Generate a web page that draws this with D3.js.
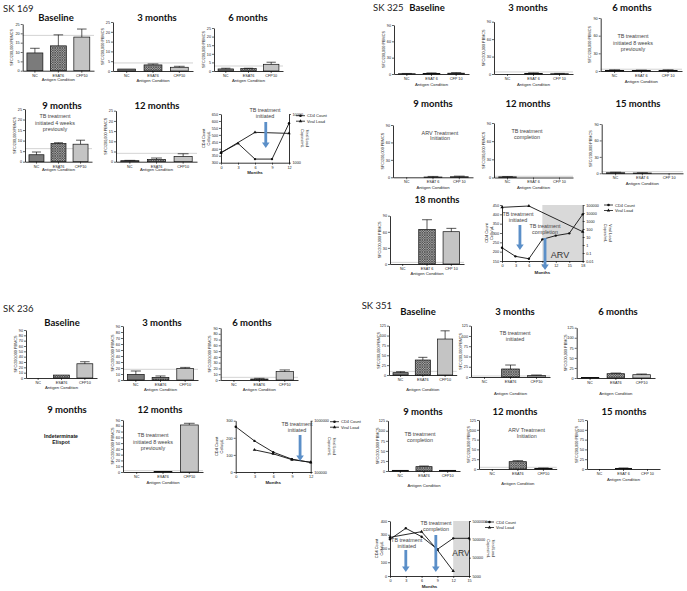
<!DOCTYPE html>
<html><head><meta charset="utf-8">
<script src="https://cdn.jsdelivr.net/npm/d3@7"></script>
<style>body{margin:0;background:#fff}svg{display:block}</style>
</head><body>
<svg id="c" width="687" height="591"></svg>
<script>
// ---------------- DATA ----------------
const catsA = ["NC","ESAT6","CFP10"];
const catsB = ["NC","ESAT 6","CFP 10"];
const yLabelBar = "SFC/200,000 PBMCS";
const xLabelBar = "Antigen Condition";

// SK 169 (scale 0-25)
const ticks169 = [0,5,10,15,20,25];
const v169_b = [9.5,13.3,18.0],  e169_b = [12.0,19.2,22.3];
const v169_3 = [1.0,3.1,1.9],    e169_3 = [1.0,3.6,2.4];
const v169_6 = [1.2,1.4,3.9],    e169_6 = [1.6,1.6,5.1];
const v169_9 = [3.3,8.6,8.3],    e169_9 = [4.6,9.0,10.2];
const v169_12 = [0.5,1.1,2.6],   e169_12 = [0.65,1.8,3.9];
const thr169 = [18.9,4.1,2.9,6.2,4.1];

// SK 325 (scale 0-90)
const ticks325 = [0,30,60,90];
const v325_b = [0.5,1.0,1.5],  e325_b = [1.0,2.0,2.5];
const v325_3 = [0,1.0,0.5],    e325_3 = [0,2.0,1.0];
const v325_6 = [1.0,1.0,1.0],  e325_6 = [2.0,1.5,2.0];
const v325_9 = [0,0.5,1.0],    e325_9 = [0,1.5,2.0];
const v325_12 = [1.0,0,0],     e325_12 = [1.5,0,0];
const v325_15 = [1.0,0.5,0],   e325_15 = [2.0,1.0,0];
const v325_18 = [0,64.5,60.2], e325_18 = [0,82.5,66.4];

// SK 236 (scale 0-90)
const ticks236 = [0,10,20,30,40,50,60,70,80,90];
const v236_b = [0,5.5,26.7],  e236_b = [0,5.5,30.5];
const v236_3 = [9.4,4.4,19.4], e236_3 = [15.0,6.7,21.0];
const v236_6 = [0,1.7,14.5],   e236_6 = [0,2.9,17.4];
const v236_12 = [0,1.0,81.4],  e236_12 = [0,1.0,84.3];

// SK 351 (scale 0-125)
const ticks351 = [0,25,50,75,100,125];
const v351_b = [5.9,38.0,91.2],  e351_b = [8.4,44.8,112.0];
const v351_3 = [0,19.5,4.0],     e351_3 = [0,29.2,4.9];
const v351_6 = [1.6,10.7,8.2],   e351_6 = [1.6,12.3,9.9];
const v351_9 = [1.7,10.8,1.7],   e351_9 = [1.7,12.4,1.7];
const v351_12 = [0,18.7,1.7],    e351_12 = [0,21.3,2.6];
const v351_15 = [0,1.7,0],       e351_15 = [0,2.6,0];

// CD4 / viral load time courses
const cd4M_169 = [0,3,6,9,12],  cd4_169 = [372,439,326,326,583];
const vlM_169 = [0,6,12],       vl_169 = [1600,4200,4000];
const cd4M_325 = [0,3,6,9,12,15,18], cd4_325 = [221,175,162,266,286,298,400];
const vlM_325 = [0,6,18],       vl_325 = [51000,75000,46];
const cd4M_236 = [0,3,6,9,12],  cd4_236 = [265,182,116,75,56];
const vlM_236 = [3,6,9,12],     vl_236 = [270000,226000,174000,155000];
const cd4M_351 = [0,3,6,9,12,15], cd4_351 = [267,347,286,194,274,274];
const vlM_351 = [0,6,9,12],     vl_351 = [643000,1310000,131000,9400];

// ---------------- DRAWING ----------------
const svg = d3.select("#c");
const SMALL = "'Liberation Sans', Arial, sans-serif";
const TITLE = "Lato, 'Open Sans', sans-serif";
const defs = svg.append("defs");
const pat = defs.append("pattern").attr("id","hatch").attr("patternUnits","userSpaceOnUse").attr("width",2.4).attr("height",2.4);
pat.append("rect").attr("width",2.4).attr("height",2.4).attr("fill","#a9a9a9");
pat.append("path").attr("d","M0,0L2.4,2.4M2.4,0L0,2.4").attr("stroke","#3a3a3a").attr("stroke-width",0.6);
const fills = ["#7b7b7b","url(#hatch)","#c4c4c4"];
const BLUE = "#5b8fc8";

function styleAxis(sel, fs){
  sel.attr("font-size",fs).attr("font-family",SMALL);
  sel.select(".domain").attr("stroke","#000").attr("stroke-width",0.8);
  sel.selectAll(".tick line").attr("stroke","#000").attr("stroke-width",0.6);
  sel.selectAll(".tick text").attr("fill","#222");
}
function title(t,x,y){
  svg.append("text").attr("x",x).attr("y",y).attr("text-anchor","middle").attr("dominant-baseline","central")
    .attr("font-family",TITLE).attr("font-weight","bold").attr("font-size",9.5).attr("fill","#111").text(t);
}
function note(lines,x,y0,dy,fs,bold){
  const t = svg.append("text").attr("text-anchor","middle").attr("font-family",SMALL).attr("font-size",fs||5.4)
    .attr("fill", bold?"#111":"#444").attr("font-weight",bold?"bold":"normal");
  lines.forEach((l,i)=>t.append("tspan").attr("x",x).attr("y",y0+i*(dy||6.3)).attr("dominant-baseline","central").text(l));
}
function patient(t,x,y){
  svg.append("text").attr("x",x).attr("y",y).attr("dominant-baseline","central").attr("font-family",TITLE)
    .attr("font-size",9.5).attr("fill","#222").text(t);
}

function barPanel(p){
  const g = svg.append("g");
  const x = d3.scaleBand().domain(p.cats).range([p.x,p.x+p.w]).paddingInner(0.32).paddingOuter(0.18);
  const ymax = p.ticks[p.ticks.length-1];
  const y = d3.scaleLinear().domain([0,ymax]).range([p.y+p.h,p.y]);
  if(p.thr!=null) g.append("line").attr("x1",p.x).attr("x2",p.x+p.w).attr("y1",y(p.thr)).attr("y2",y(p.thr))
    .attr("stroke","#c8c8c8").attr("stroke-width",0.8);
  const rows = p.vals.map((v,i)=>({c:p.cats[i],v,e:p.errs[i],i}));
  g.selectAll("rect.bar").data(rows.filter(d=>d.v>0)).join("rect").attr("class","bar")
    .attr("x",d=>x(d.c)).attr("y",d=>y(d.v)).attr("width",x.bandwidth()).attr("height",d=>y(0)-y(d.v))
    .attr("fill",d=>fills[d.i]).attr("stroke","#111").attr("stroke-width",0.7);
  const eb = rows.filter(d=>d.e>d.v);
  const bw = x.bandwidth();
  g.selectAll("line.eb").data(eb).join("line").attr("class","eb")
    .attr("x1",d=>x(d.c)+bw/2).attr("x2",d=>x(d.c)+bw/2).attr("y1",d=>y(d.v)).attr("y2",d=>y(d.e))
    .attr("stroke","#111").attr("stroke-width",0.7);
  g.selectAll("line.cap").data(eb).join("line").attr("class","cap")
    .attr("x1",d=>x(d.c)+bw*0.2).attr("x2",d=>x(d.c)+bw*0.8).attr("y1",d=>y(d.e)).attr("y2",d=>y(d.e))
    .attr("stroke","#111").attr("stroke-width",0.7);
  const ya = g.append("g").attr("transform",`translate(${p.x},0)`)
    .call(d3.axisLeft(y).tickValues(p.ticks).tickSize(2).tickSizeOuter(0).tickPadding(1));
  styleAxis(ya,3.8);
  const xa = g.append("g").attr("transform",`translate(0,${p.y+p.h})`)
    .call(d3.axisBottom(x).tickSize(2).tickSizeOuter(0).tickPadding(1.3));
  styleAxis(xa,3.8);
  g.append("text").attr("transform",`translate(${p.x-10.5},${p.y+p.h/2}) rotate(-90)`).attr("text-anchor","middle")
    .attr("dominant-baseline","central").attr("font-family",SMALL).attr("font-size",3.8).attr("fill","#222").text(yLabelBar);
  g.append("text").attr("x",p.x+p.w/2).attr("y",p.y+p.h+p.ag).attr("text-anchor","middle").attr("dominant-baseline","central")
    .attr("font-family",SMALL).attr("font-size",4.2).attr("fill","#222").text(xLabelBar);
  title(p.title,p.tx,p.ty);
  if(p.note) note(p.note,p.nx,p.ny,p.ndy);
}

function arrow(g,x,y1,y2){
  const hw=3.8, hl=5.5, sw=1.4;
  g.append("path").attr("d",`M${x-sw},${y1}L${x+sw},${y1}L${x+sw},${y2-hl}L${x+hw},${y2-hl}L${x},${y2}L${x-hw},${y2-hl}L${x-sw},${y2-hl}Z`)
    .attr("fill",BLUE);
}

function linePanel(p){
  const g = svg.append("g");
  const xmax = p.xTicks[p.xTicks.length-1];
  const x = d3.scaleLinear().domain([0,xmax]).range([p.x,p.x+p.w]);
  const yl = d3.scaleLinear().domain(p.lDom).range([p.y+p.h,p.y]);
  const yr = d3.scaleLog().domain(p.rDom).range([p.y+p.h,p.y]);
  if(p.shade) g.append("rect").attr("x",x(p.shade[0])).attr("y",p.y).attr("width",x(p.shade[1])-x(p.shade[0]))
    .attr("height",p.h).attr("fill","#d9d9d9");
  if(p.arv) g.append("text").attr("x",p.arv[0]).attr("y",p.arv[1]).attr("text-anchor","middle").attr("dominant-baseline","central")
    .attr("font-family",SMALL).attr("font-size",p.arv[2]).attr("fill","#333").text("ARV");
  const cd = p.cd4M.map((m,i)=>[x(m),yl(p.cd4[i])]);
  const vl = p.vlM.map((m,i)=>[x(m),yr(p.vl[i])]);
  g.append("path").attr("d",d3.line()(cd)).attr("fill","none").attr("stroke","#111").attr("stroke-width",0.9);
  g.append("path").attr("d",d3.line()(vl)).attr("fill","none").attr("stroke","#111").attr("stroke-width",0.9);
  g.selectAll("circle.cd").data(cd).join("circle").attr("class","cd").attr("cx",d=>d[0]).attr("cy",d=>d[1]).attr("r",1.2).attr("fill","#111");
  const tri = d3.symbol().type(d3.symbolTriangle).size(5);
  g.selectAll("path.vl").data(vl).join("path").attr("class","vl").attr("d",tri).attr("transform",d=>`translate(${d[0]},${d[1]})`).attr("fill","#111");
  const la = g.append("g").attr("transform",`translate(${p.x},0)`)
    .call(d3.axisLeft(yl).tickValues(p.lTicks).tickSize(2).tickSizeOuter(0).tickPadding(1));
  styleAxis(la,3.8);
  const fmt = d=> d<1 ? String(d) : d3.format("d")(d);
  const ra = g.append("g").attr("transform",`translate(${p.x+p.w},0)`)
    .call(d3.axisRight(yr).tickValues(p.rTicks).tickFormat(fmt).tickSize(2).tickSizeOuter(0).tickPadding(1.5));
  styleAxis(ra,3.8);
  const xa = g.append("g").attr("transform",`translate(0,${p.y+p.h})`)
    .call(d3.axisBottom(x).tickValues(p.xTicks).tickSize(2).tickSizeOuter(0).tickPadding(1.3));
  styleAxis(xa,3.8);
  g.append("text").attr("x",p.x+p.w/2).attr("y",p.y+p.h+p.mg).attr("text-anchor","middle").attr("dominant-baseline","central")
    .attr("font-family",SMALL).attr("font-weight","bold").attr("font-size",4.4).attr("fill","#222").text("Months");
  const lt = g.append("text").attr("transform",`translate(${p.llx},${p.y+p.h/2}) rotate(-90)`).attr("text-anchor","middle")
    .attr("font-family",SMALL).attr("font-size",3.9).attr("fill","#222");
  lt.append("tspan").attr("x",0).attr("y",-2.3).attr("dominant-baseline","central").text("CD4 Count");
  lt.append("tspan").attr("x",0).attr("y",2.3).attr("dominant-baseline","central").text("Cells/\u03BCL");
  const rt = g.append("text").attr("transform",`translate(${p.rlx},${p.y+p.h/2}) rotate(90)`).attr("text-anchor","middle")
    .attr("font-family",SMALL).attr("font-size",3.9).attr("fill","#222");
  rt.append("tspan").attr("x",0).attr("y",-2.3).attr("dominant-baseline","central").text("Viral Load");
  rt.append("tspan").attr("x",0).attr("y",2.3).attr("dominant-baseline","central").text("Copies/mL");
  const [lx,ly] = p.leg;
  [["CD4 Count","c"],["Viral Load","t"]].forEach((d,i)=>{
    const yy = ly+i*5.5;
    g.append("line").attr("x1",lx).attr("x2",lx+9).attr("y1",yy).attr("y2",yy).attr("stroke","#111").attr("stroke-width",0.8);
    if(d[1]==="c") g.append("circle").attr("cx",lx+4.5).attr("cy",yy).attr("r",1.3).attr("fill","#111");
    else g.append("path").attr("d",tri).attr("transform",`translate(${lx+4.5},${yy})`).attr("fill","#111");
    g.append("text").attr("x",lx+11).attr("y",yy).attr("dominant-baseline","central").attr("font-family",SMALL)
      .attr("font-size",4).attr("fill","#222").text(d[0]);
  });
  p.arrows.forEach(a=>arrow(g,x(a.m),a.y1,a.y2));
  p.notes.forEach(n=>note(n.t,n.x,n.y,5.8,5.4));
}

// ---------- SK 169 ----------
patient("SK 169",3,8);
barPanel({cats:catsA,ticks:ticks169,vals:v169_b,errs:e169_b,thr:thr169[0],x:22.7,y:24,w:71.3,h:46.7,ag:8.5,title:"Baseline",tx:56,ty:17});
barPanel({cats:catsA,ticks:ticks169,vals:v169_3,errs:e169_3,thr:thr169[1],x:113,y:22,w:80,h:49,ag:9,title:"3 months",tx:157,ty:17});
barPanel({cats:catsA,ticks:ticks169,vals:v169_6,errs:e169_6,thr:thr169[2],x:214,y:28,w:69,h:43,ag:9,title:"6 months",tx:248,ty:17});
barPanel({cats:catsA,ticks:ticks169,vals:v169_9,errs:e169_9,thr:thr169[3],x:25,y:109,w:67,h:52.7,ag:8,title:"9 months",tx:62,ty:105,
  note:["TB treatment","initiated 4 weeks","previously"],nx:55,ny:116,ndy:6.5});
barPanel({cats:catsA,ticks:ticks169,vals:v169_12,errs:e169_12,thr:thr169[4],x:116,y:110.7,w:81,h:51,ag:8,title:"12 months",tx:157,ty:105});
linePanel({x:221,y:114,w:68,h:48.7,xTicks:[0,3,6,9,12],lDom:[300,650],lTicks:[300,350,400,450,500,550,600,650],
  rDom:[1000,10000],rTicks:[1000,10000],cd4M:cd4M_169,cd4:cd4_169,vlM:vlM_169,vl:vl_169,mg:10,llx:206,rlx:305,leg:[296,115.7],
  arrows:[{m:7.9,y1:122,y2:148}],notes:[{t:["TB treatment","initiated"],x:265,y:110}]});

// ---------- SK 325 ----------
patient("SK 325",373,7);
barPanel({cats:catsB,ticks:ticks325,vals:v325_b,errs:e325_b,thr:null,x:394,y:25,w:75,h:49,ag:10,title:"Baseline",tx:427,ty:7});
barPanel({cats:catsB,ticks:ticks325,vals:v325_3,errs:e325_3,thr:3.5,x:494,y:21.7,w:79,h:52.3,ag:10,title:"3 months",tx:528,ty:7});
barPanel({cats:catsB,ticks:ticks325,vals:v325_6,errs:e325_6,thr:3,x:600.7,y:18,w:81.3,h:53,ag:10,title:"6 months",tx:632,ty:7,
  note:["TB treatment","initiated 8 weeks","previously"],nx:633,ny:36,ndy:6.5});
barPanel({cats:catsB,ticks:ticks325,vals:v325_9,errs:e325_9,thr:null,x:393,y:125,w:80,h:52.3,ag:10,title:"9 months",tx:433,ty:103,
  note:["ARV Treatment","Initiation"],nx:440,ny:132.7,ndy:5.5});
barPanel({cats:catsB,ticks:ticks325,vals:v325_12,errs:e325_12,thr:2,x:494,y:123,w:79,h:54.5,ag:10,title:"12 months",tx:528,ty:103,
  note:["TB treatment","completion"],nx:527,ny:130.7,ndy:5.8});
barPanel({cats:catsB,ticks:ticks325,vals:v325_15,errs:e325_15,thr:3,x:601.7,y:124,w:81.3,h:49.3,ag:10,title:"15 months",tx:638,ty:103});
barPanel({cats:catsB,ticks:ticks325,vals:v325_18,errs:e325_18,thr:3,x:390,y:215.7,w:74,h:48.3,ag:9.5,title:"18 months",tx:437,ty:199});
linePanel({x:502,y:205,w:80.7,h:56,xTicks:[0,3,6,9,12,15,18],lDom:[150,450],lTicks:[150,200,250,300,350,400,450],
  rDom:[0.01,100000],rTicks:[0.01,0.1,1,10,100,1000,10000,100000],cd4M:cd4M_325,cd4:cd4_325,vlM:vlM_325,vl:vl_325,
  mg:11,llx:489,rlx:608,leg:[604,205],shade:[9,18],arv:[560,255,9],
  arrows:[{m:4.0,y1:225,y2:250},{m:9.6,y1:238,y2:270}],
  notes:[{t:["TB treatment","initiated"],x:518,y:214},{t:["TB treatment","completion"],x:545,y:226}]});

// ---------- SK 236 ----------
patient("SK 236",3,308);
barPanel({cats:catsA,ticks:ticks236,vals:v236_b,errs:e236_b,thr:null,x:26,y:330,w:71,h:48,ag:9.5,title:"Baseline",tx:62,ty:322});
barPanel({cats:catsA,ticks:ticks236,vals:v236_3,errs:e236_3,thr:17.8,x:123,y:326,w:75,h:54,ag:9.5,title:"3 months",tx:162,ty:322});
barPanel({cats:catsA,ticks:ticks236,vals:v236_6,errs:e236_6,thr:4.6,x:220.7,y:328,w:77.3,h:52,ag:9.5,title:"6 months",tx:252,ty:322});
title("9 months",67,409);
note(["Indeterminate","Elispot"],61,435.7,6,5.2,true);
barPanel({cats:catsA,ticks:ticks236,vals:v236_12,errs:e236_12,thr:2.3,x:123,y:420,w:80,h:52,ag:10,title:"12 months",tx:160,ty:409,
  note:["TB treatment","initiated 8 weeks","previously"],nx:153,ny:435,ndy:6.5});
linePanel({x:235.7,y:420.7,w:75,h:51.3,xTicks:[0,3,6,9,12],lDom:[0,300],lTicks:[0,100,200,300],
  rDom:[100000,1000000],rTicks:[100000,1000000],cd4M:cd4M_236,cd4:cd4_236,vlM:vlM_236,vl:vl_236,
  mg:10.5,llx:219,rlx:332,leg:[330,421.7],
  arrows:[{m:10.3,y1:435,y2:461}],notes:[{t:["TB treatment","initiated"],x:297,y:424}]});

// ---------- SK 351 ----------
patient("SK 351",361.7,305.7);
barPanel({cats:catsA,ticks:ticks351,vals:v351_b,errs:e351_b,thr:9.3,x:389,y:325.7,w:67.7,h:49.3,ag:14,title:"Baseline",tx:418,ty:311.7});
barPanel({cats:catsA,ticks:ticks351,vals:v351_3,errs:e351_3,thr:2.4,x:471,y:325.7,w:79,h:51.3,ag:16,title:"3 months",tx:515,ty:311.7,
  note:["TB treatment","initiated"],nx:515,ny:333,ndy:6});
barPanel({cats:catsA,ticks:ticks351,vals:v351_6,errs:e351_6,thr:null,x:576.7,y:327.7,w:78.3,h:50.3,ag:15,title:"6 months",tx:618,ty:311.7});
barPanel({cats:catsA,ticks:ticks351,vals:v351_9,errs:e351_9,thr:null,x:388,y:420.7,w:72,h:50.3,ag:14,title:"9 months",tx:423,ty:411,
  note:["TB treatment","completion"],nx:420,ny:433.7,ndy:5.8});
barPanel({cats:catsA,ticks:ticks351,vals:v351_12,errs:e351_12,thr:4.3,x:479,y:420,w:77.7,h:49,ag:14,title:"12 months",tx:515,ty:411,
  note:["ARV Treatment","Initiation"],nx:526.7,ny:430,ndy:6.3});
barPanel({cats:catsB,ticks:ticks351,vals:v351_15,errs:e351_15,thr:null,x:587,y:420,w:73,h:49,ag:10,title:"15 months",tx:624,ty:411});
linePanel({x:390,y:521,w:79,h:55,xTicks:[0,3,6,9,12,15],lDom:[0,400],lTicks:[0,100,200,300,400],
  rDom:[5000,5000000],rTicks:[5000,50000,500000,5000000],cd4M:cd4M_351,cd4:cd4_351,vlM:vlM_351,vl:vl_351,
  mg:10.5,llx:379,rlx:491,leg:[485,522],shade:[12,15],arv:[461,553,8.5],
  arrows:[{m:3.0,y1:550,y2:572},{m:8.7,y1:535,y2:572}],
  notes:[{t:["TB treatment","initiated"],x:406.7,y:540},{t:["TB treatment","completion"],x:436,y:522.7}]});
</script>
</body></html>
